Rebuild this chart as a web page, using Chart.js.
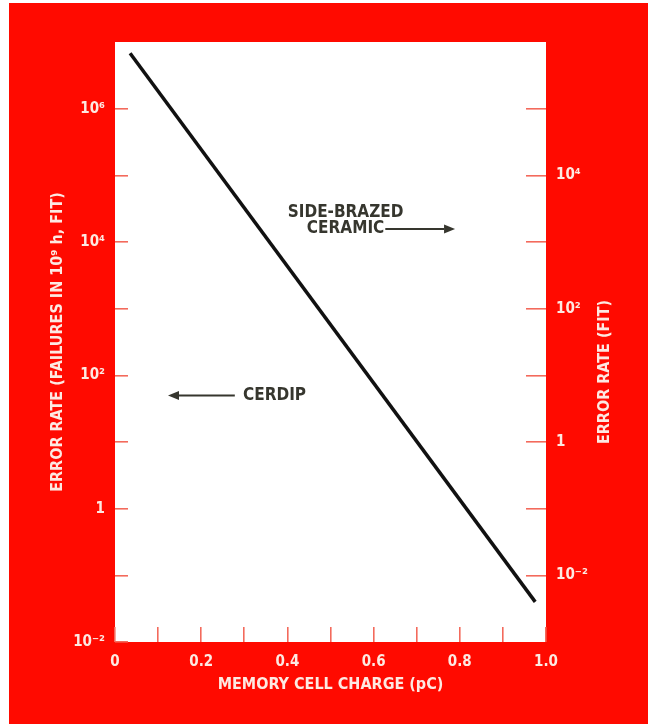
<!DOCTYPE html>
<html>
<head>
<meta charset="utf-8">
<script src="https://cdn.jsdelivr.net/npm/chart.js@4/dist/chart.umd.min.js"></script>
<style>
  html, body { margin: 0; padding: 0; background: #ffffff; }
  #wrap { position: absolute; left: 0; top: 0; width: 648px; height: 724px; }
</style>
</head>
<body>
<div id="wrap"><canvas id="c" width="648" height="724"></canvas></div>
<script>
// Error rate vs. memory cell charge (straight line on a log axis)
const charge = [0.035, 0.975];          // pC
const errorRateFit = [6.8e6, 0.04];     // failures in 10^9 h (FIT)

// Axis ticks
const xTickValues = [0, 0.1, 0.2, 0.3, 0.4, 0.5, 0.6, 0.7, 0.8, 0.9, 1.0];
const xTickLabels = ['0', '', '0.2', '', '0.4', '', '0.6', '', '0.8', '', '1.0'];
const leftExponents = [-2, -1, 0, 1, 2, 3, 4, 5, 6];
const leftTickLabels = ['10\u207B\u00B2', '', '1', '', '10\u00B2', '', '10\u2074', '', '10\u2076'];
const rightExponents = [-2, -1, 0, 1, 2, 3, 4, 5];
const rightTickLabels = ['10\u207B\u00B2', '', '1', '', '10\u00B2', '', '10\u2074', ''];

// Annotation anchors in data units (charge, left-axis rate)
const sideBrazedLines = ['SIDE-BRAZED', 'CERAMIC'];
const sideBrazedAt = { x: 0.535, y1: 2.8e4, y2: 1.57e4, arrowEnd: 0.789 };
const cerdipLabel = 'CERDIP';
const cerdipAt = { x: 0.297, y: 50, arrowStart: 0.278, arrowEnd: 0.123 };

const RED = '#ff0a00';
const TEXT_ON_RED = '#fde9e2';
const TICK = '#f36a5c';
const INK = '#36362e';
const FONT = "'Liberation Sans Narrow', 'DejaVu Sans Condensed', 'Roboto Condensed', sans-serif";

Chart.defaults.font.family = FONT;
Chart.defaults.font.weight = 'bold';

const backdrop = {
  id: 'backdrop',
  beforeDraw(chart) {
    const { ctx, chartArea: a } = chart;
    ctx.save();
    ctx.fillStyle = RED;
    ctx.fillRect(9, 3, chart.width - 9, chart.height - 3);
    ctx.fillStyle = '#ffffff';
    ctx.fillRect(a.left, a.top, a.right - a.left, a.bottom - a.top);
    ctx.restore();
  }
};

function arrow(ctx, x1, y, x2) {
  const dir = Math.sign(x2 - x1);
  const head = 11;
  ctx.beginPath();
  ctx.moveTo(x1, y);
  ctx.lineTo(x2 - dir * head, y);
  ctx.stroke();
  ctx.beginPath();
  ctx.moveTo(x2, y);
  ctx.lineTo(x2 - dir * head, y - 4.5);
  ctx.lineTo(x2 - dir * head, y + 4.5);
  ctx.closePath();
  ctx.fill();
}

const notes = {
  id: 'notes',
  afterDatasetsDraw(chart) {
    const { ctx, scales: { x, y }, chartArea: a } = chart;
    ctx.save();
    ctx.fillStyle = INK;
    ctx.strokeStyle = INK;
    ctx.lineWidth = 2;
    ctx.font = "bold 17px " + FONT;
    ctx.textBaseline = 'middle';

    // Side-brazed ceramic: two centred lines with an arrow pointing right
    const cx = x.getPixelForValue(sideBrazedAt.x);
    ctx.textAlign = 'center';
    ctx.fillText(sideBrazedLines[0], cx, y.getPixelForValue(sideBrazedAt.y1));
    const y2 = y.getPixelForValue(sideBrazedAt.y2);
    ctx.fillText(sideBrazedLines[1], cx, y2);
    const w2 = ctx.measureText(sideBrazedLines[1]).width;
    arrow(ctx, cx + w2 / 2 + 1, y2, x.getPixelForValue(sideBrazedAt.arrowEnd));

    // Cerdip: label with an arrow pointing left
    const cy = y.getPixelForValue(cerdipAt.y);
    ctx.textAlign = 'left';
    ctx.fillText(cerdipLabel, x.getPixelForValue(cerdipAt.x), cy);
    arrow(ctx, x.getPixelForValue(cerdipAt.arrowStart), cy, x.getPixelForValue(cerdipAt.arrowEnd));

    // Right-hand axis title, reading upward
    ctx.fillStyle = TEXT_ON_RED;
    ctx.font = "bold 16px " + FONT;
    ctx.textAlign = 'center';
    ctx.translate(a.right + 59, (a.top + a.bottom) / 2 + 30);
    ctx.rotate(-Math.PI / 2);
    ctx.fillText('ERROR RATE (FIT)', 0, 0);
    ctx.restore();
  }
};

const tickFont = { size: 15, weight: 'bold', family: FONT };

new Chart(document.getElementById('c'), {
  type: 'line',
  data: {
    datasets: [{
      data: charge.map((c, i) => ({ x: c, y: errorRateFit[i] })),
      borderColor: '#111111',
      borderWidth: 3.5,
      pointRadius: 0,
      fill: false,
      tension: 0,
      yAxisID: 'y'
    }]
  },
  options: {
    responsive: false,
    devicePixelRatio: 1,
    animation: false,
    layout: { padding: { top: 42, left: 0, right: 0, bottom: 0 } },
    plugins: { legend: { display: false }, tooltip: { enabled: false } },
    scales: {
      x: {
        type: 'linear',
        position: 'bottom',
        min: 0, max: 1,
        afterBuildTicks: s => { s.ticks = xTickValues.map(v => ({ value: v })); },
        afterFit: s => { s.height = 82; },
        border: { display: false },
        grid: { drawOnChartArea: false, drawTicks: true, tickLength: -15, color: TICK, tickColor: TICK, lineWidth: 1.6 },
        ticks: {
          autoSkip: false, maxRotation: 0, padding: 26,
          color: TEXT_ON_RED, font: tickFont,
          callback: (v, i) => xTickLabels[i]
        },
        title: {
          display: true, text: 'MEMORY CELL CHARGE (pC)', color: TEXT_ON_RED,
          font: { size: 16, weight: 'bold', family: FONT },
          padding: { top: 0, bottom: 30 }
        }
      },
      y: {
        type: 'logarithmic',
        position: 'left',
        min: 1e-2, max: 1e7,
        afterBuildTicks: s => { s.ticks = leftExponents.map(e => ({ value: Math.pow(10, e) })); },
        afterFit: s => { s.width = 115; },
        border: { display: false },
        grid: { drawOnChartArea: false, drawTicks: true, tickLength: -13, color: TICK, tickColor: TICK, lineWidth: 1.6 },
        ticks: {
          autoSkip: false, padding: 23,
          color: TEXT_ON_RED, font: tickFont,
          callback: (v, i) => leftTickLabels[i]
        },
        title: {
          display: true, text: 'ERROR RATE (FAILURES IN 10\u2079 h, FIT)', color: TEXT_ON_RED,
          font: { size: 16, weight: 'bold', family: FONT },
          padding: { top: 48, bottom: 0 }
        }
      },
      y2: {
        type: 'logarithmic',
        position: 'right',
        min: 1e-3, max: 1e6,
        afterBuildTicks: s => { s.ticks = rightExponents.map(e => ({ value: Math.pow(10, e) })); },
        afterFit: s => { s.width = 102; },
        border: { display: false },
        grid: { drawOnChartArea: false, drawTicks: true, tickLength: -20, color: TICK, tickColor: TICK, lineWidth: 1.6 },
        ticks: {
          autoSkip: false, padding: 30,
          color: TEXT_ON_RED, font: tickFont,
          callback: (v, i) => rightTickLabels[i]
        }
      }
    }
  },
  plugins: [backdrop, notes]
});
</script>
</body>
</html>
